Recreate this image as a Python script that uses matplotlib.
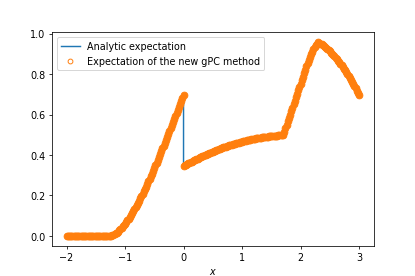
import numpy as np
import matplotlib.pyplot as plt

# left branch, x from -2 to 0 (step 0.02): flat zero, then rising to the jump
x_left = np.linspace(-2, 0, 101)
y_left = [0.0] * 38 + [
    0.001, 0.002, 0.005, 0.008, 0.012,
    0.016, 0.021, 0.027, 0.033, 0.040,
    0.047, 0.054, 0.061, 0.069, 0.077,
    0.085, 0.094, 0.103, 0.112, 0.122,
    0.132, 0.142, 0.153, 0.163, 0.174,
    0.185, 0.197, 0.208, 0.220, 0.232,
    0.244, 0.257, 0.269, 0.282, 0.295,
    0.308, 0.321, 0.335, 0.348, 0.362,
    0.376, 0.390, 0.404, 0.418, 0.432,
    0.446, 0.461, 0.475, 0.490, 0.504,
    0.519, 0.533, 0.548, 0.562, 0.577,
    0.592, 0.607, 0.621, 0.636, 0.651,
    0.666, 0.681, 0.696,
]

# right branch, x from 0 to 3 (step 0.02)
x_right = np.linspace(0, 3, 151)
y_right = [
    0.345, 0.348, 0.352, 0.355, 0.358, 0.361, 0.364, 0.367, 0.370, 0.373,
    0.376, 0.379, 0.382, 0.385, 0.388, 0.391, 0.393, 0.396, 0.399, 0.401,
    0.404, 0.407, 0.409, 0.412, 0.414, 0.417, 0.419, 0.421, 0.424, 0.426,
    0.428, 0.430, 0.433, 0.435, 0.437, 0.439, 0.441, 0.443, 0.445, 0.447,
    0.449, 0.451, 0.453, 0.454, 0.456, 0.458, 0.460, 0.461, 0.463, 0.464,
    0.466, 0.468, 0.469, 0.470, 0.472, 0.473, 0.475, 0.476, 0.477, 0.478,
    0.480, 0.481, 0.482, 0.483, 0.484, 0.485, 0.486, 0.487, 0.488, 0.489,
    0.490, 0.491, 0.491, 0.492, 0.493, 0.494, 0.494, 0.495, 0.495, 0.496,
    0.496, 0.497, 0.497, 0.498, 0.498, 0.498,
    # steep rise to the peak
    0.515, 0.532, 0.549, 0.566, 0.583, 0.600, 0.617, 0.634, 0.651, 0.668,
    0.685, 0.702, 0.719, 0.736, 0.753, 0.770, 0.787, 0.804, 0.821, 0.838,
    0.855, 0.870, 0.885, 0.898, 0.911, 0.922, 0.933, 0.942, 0.951, 0.958,
    # falling part
    0.954, 0.951, 0.947, 0.943, 0.938, 0.933, 0.928, 0.923, 0.918, 0.912,
    0.906, 0.900, 0.894, 0.887, 0.881, 0.873, 0.866, 0.859, 0.851, 0.843,
    0.835, 0.826, 0.818, 0.809, 0.800, 0.790, 0.780, 0.771, 0.761, 0.750,
    0.740, 0.729, 0.718, 0.706, 0.695,
]

x = np.concatenate([x_left, x_right])
y = np.concatenate([y_left, y_right])

fig = plt.figure(figsize=(6, 4), dpi=69.2)
plt.plot(x, y, color="C0", label="Analytic expectation")
# the markers are so dense in the original that they merge into a band
plt.plot(x, y, "o", color="C1", ms=7,
         label="Expectation of the new gPC method")
plt.xlabel("$x$")
leg = plt.legend(loc="upper left")
leg.legend_handles[1].set_markerfacecolor("none")
leg.legend_handles[1].set_markersize(5)
plt.savefig("out.png", dpi=69.2)
